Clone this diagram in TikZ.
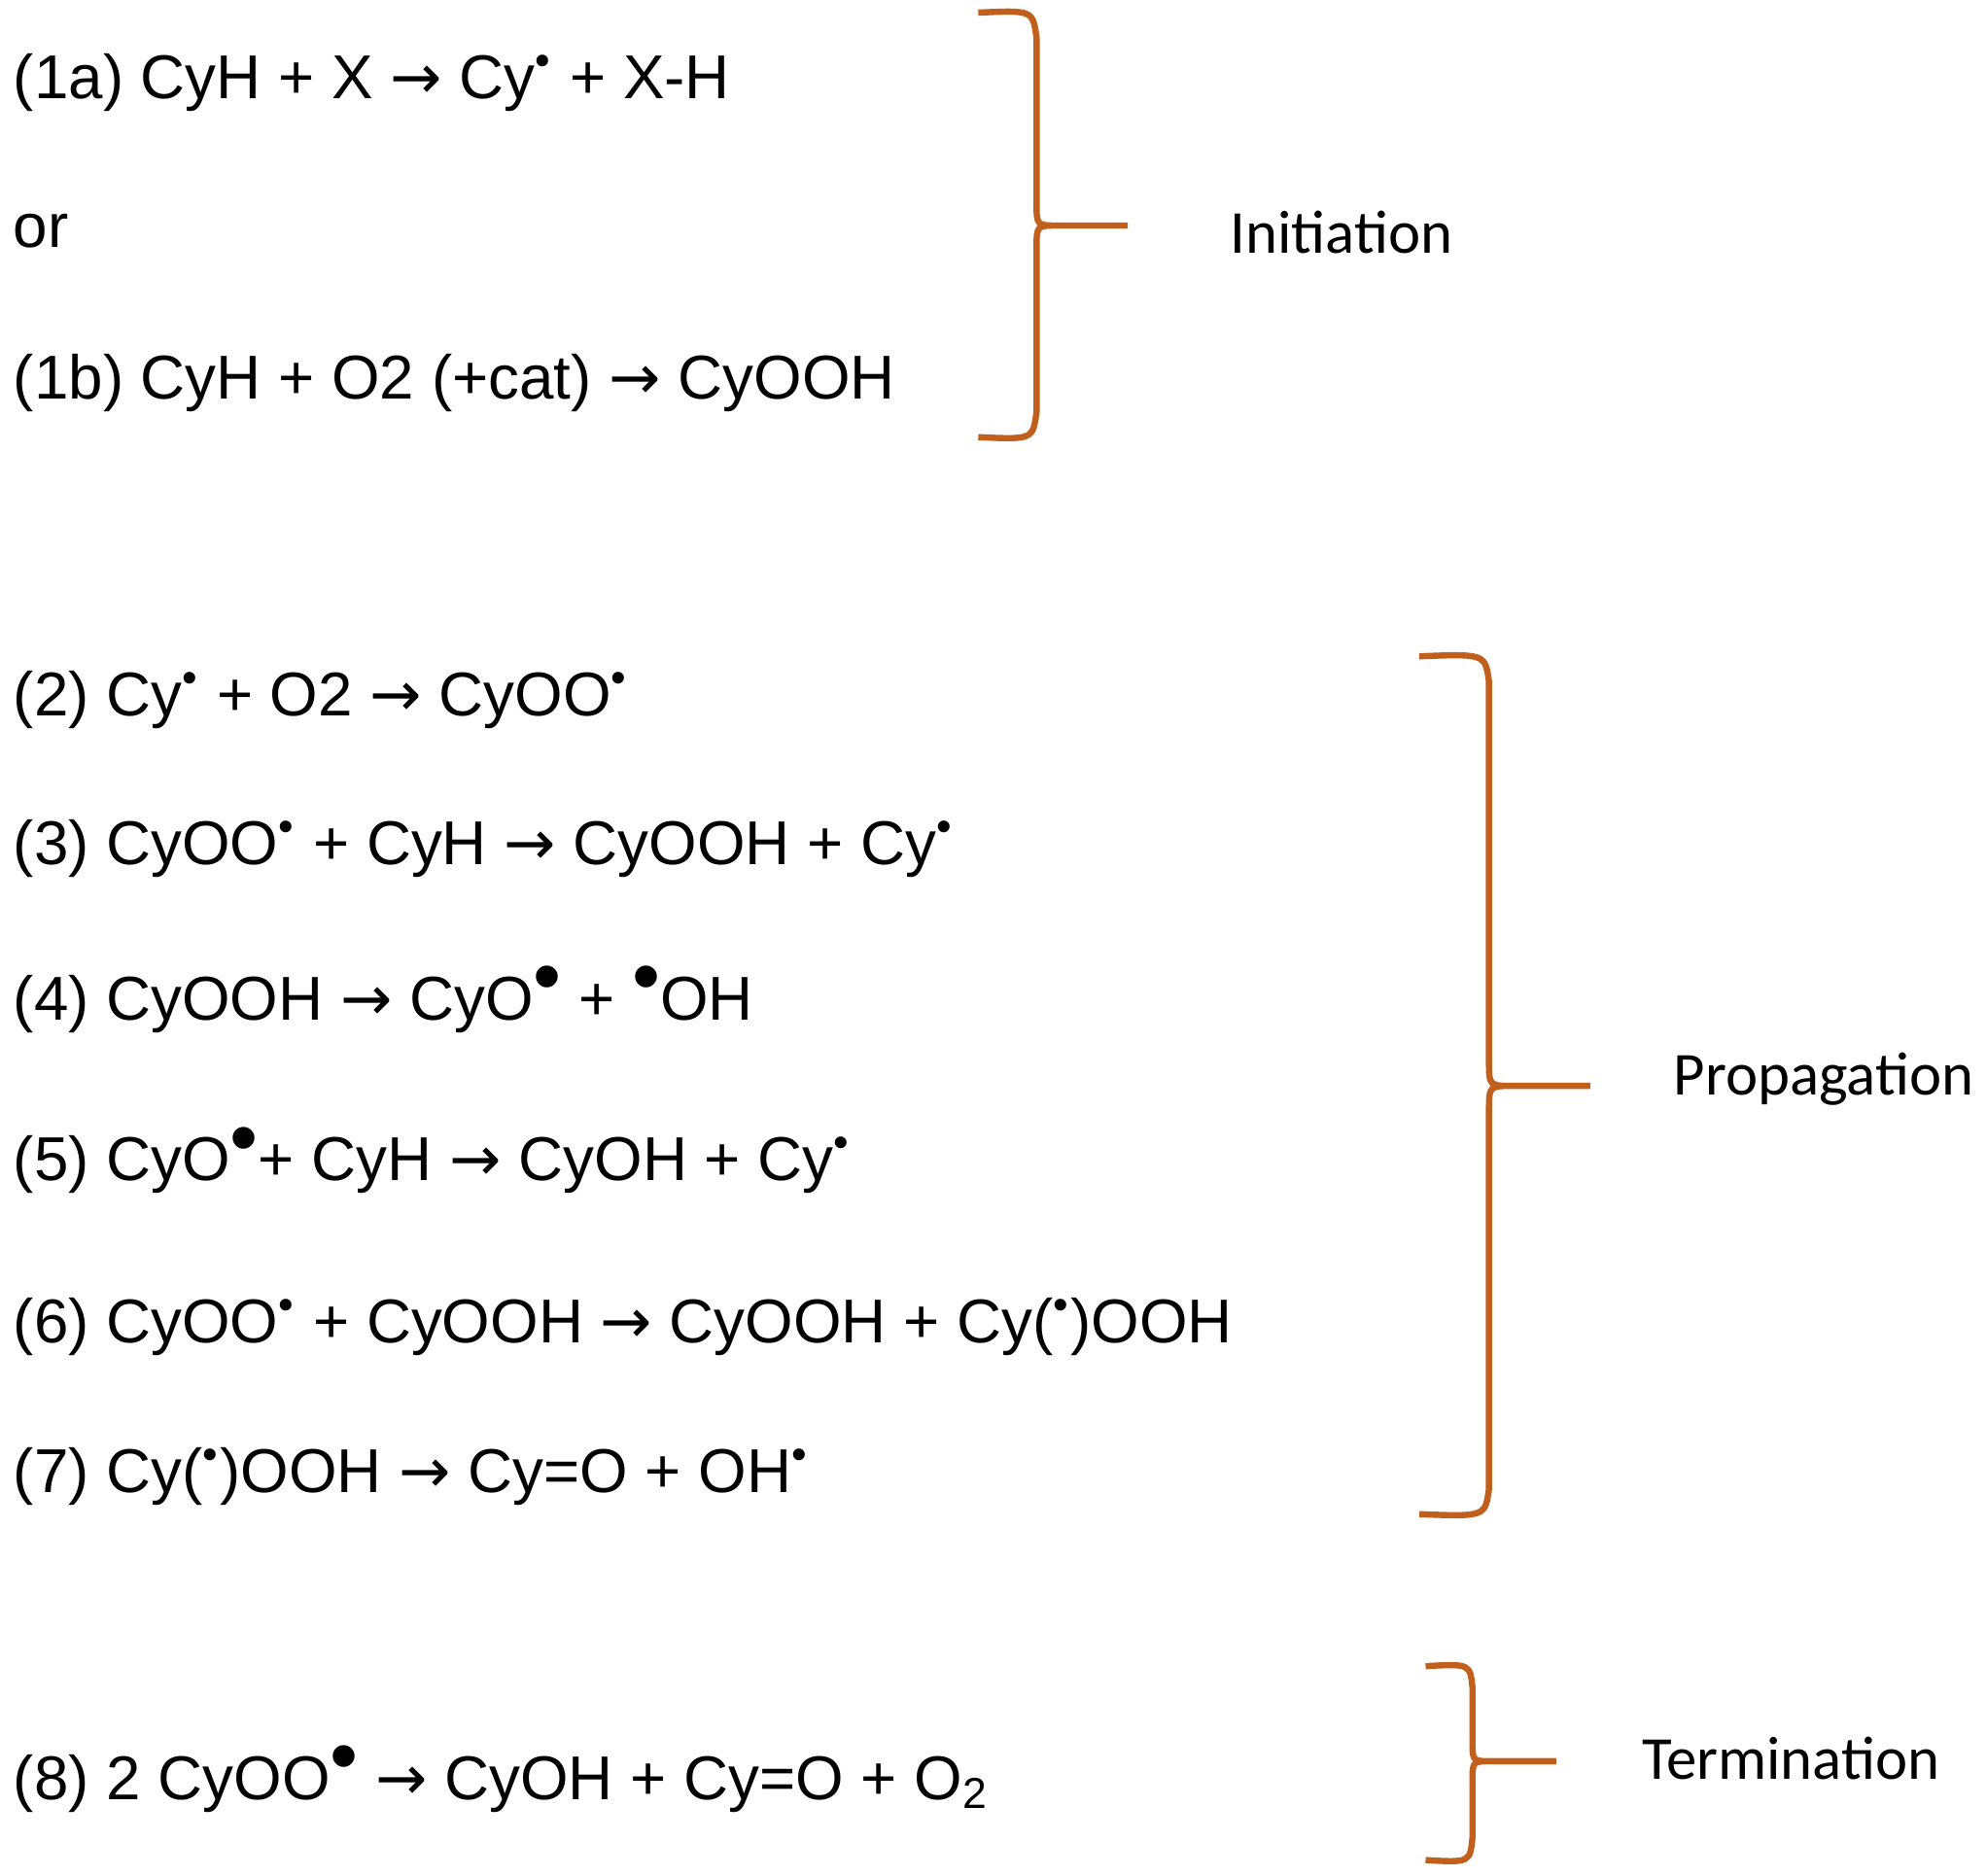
\documentclass[tikz,border=0pt]{standalone}
\usepackage{fontspec}
\setmainfont{Liberation Sans}
\newfontfamily\labfont{Carlito}
\newfontfamily\arrfont{DejaVu Sans}
\newcommand{\rad}{\textsuperscript{•}}
\newcommand{\Rad}{\raisebox{0.5ex}{\scalebox{1.3}{•}}}
\newcommand{\arr}{{\arrfont →}}
\definecolor{bracecol}{HTML}{C0601C}
\begin{document}
\begin{tikzpicture}[x=0.01cm,y=-0.01cm,
  eq/.style={anchor=base west,inner sep=0pt,font=\fontsize{13.9pt}{16pt}\selectfont},
  lab/.style={anchor=west,inner sep=0pt,font=\labfont\fontsize{13.7pt}{16pt}\selectfont},
  brace/.style={draw=bracecol,line width=1.4pt}]
\useasboundingbox (0,0) rectangle (1568,1480);
\node[eq] (e1a) at (10,78) {(1a) CyH + X \arr{} Cy\rad{} + X-H};
\node[eq] (eor) at (10,195) {or};
\node[eq] (e1b) at (10,315) {(1b) CyH + O2 (+cat) \arr{} CyOOH};
\node[eq] (e2) at (10,565) {(2) Cy\rad{} + O2 \arr{} CyOO\rad};
\node[eq] (e3) at (10,682) {(3) CyOO\rad{} + CyH \arr{} CyOOH + Cy\rad};
\node[eq] (e4) at (10,805) {(4) CyOOH \arr{} CyO\Rad{} + \Rad OH};
\node[eq] (e5) at (10,932) {(5) CyO\Rad+ CyH \arr{} CyOH + Cy\rad};
\node[eq] (e6) at (10,1060) {(6) CyOO\rad{} + CyOOH \arr{} CyOOH + Cy(\rad)OOH};
\node[eq] (e7) at (10,1178) {(7) Cy(\rad)OOH \arr{} Cy=O + OH\rad};
\node[eq] (e8) at (10,1420) {(8) 2 CyOO\Rad{} \arr{} CyOH + Cy=O + O\textsubscript{2}};
\draw[brace] (772,10) .. controls (815,8) .. (818,30) -- (818,160) .. controls (818,178) .. (835,178) -- (890,178)
  (835,178) .. controls (818,178) .. (818,196) -- (818,325) .. controls (815,347) .. (772,345);
\draw[brace] (1120,518) .. controls (1172,516) .. (1175,538) -- (1175,838) .. controls (1175,857) .. (1195,857) -- (1255,857)
  (1195,857) .. controls (1175,857) .. (1175,876) -- (1175,1175) .. controls (1172,1197) .. (1120,1195);
\draw[brace] (1125,1315) .. controls (1160,1313) .. (1162,1332) -- (1162,1375) .. controls (1162,1390) .. (1178,1390) -- (1228,1390)
  (1178,1390) .. controls (1162,1390) .. (1162,1405) -- (1162,1450) .. controls (1160,1470) .. (1125,1468);
\node[lab] (li) at (970,183) {Initiation};
\node[lab] (lp) at (1320,852) {Propagation};
\node[lab] (lt) at (1295,1388) {Termination};
\end{tikzpicture}
\end{document}
